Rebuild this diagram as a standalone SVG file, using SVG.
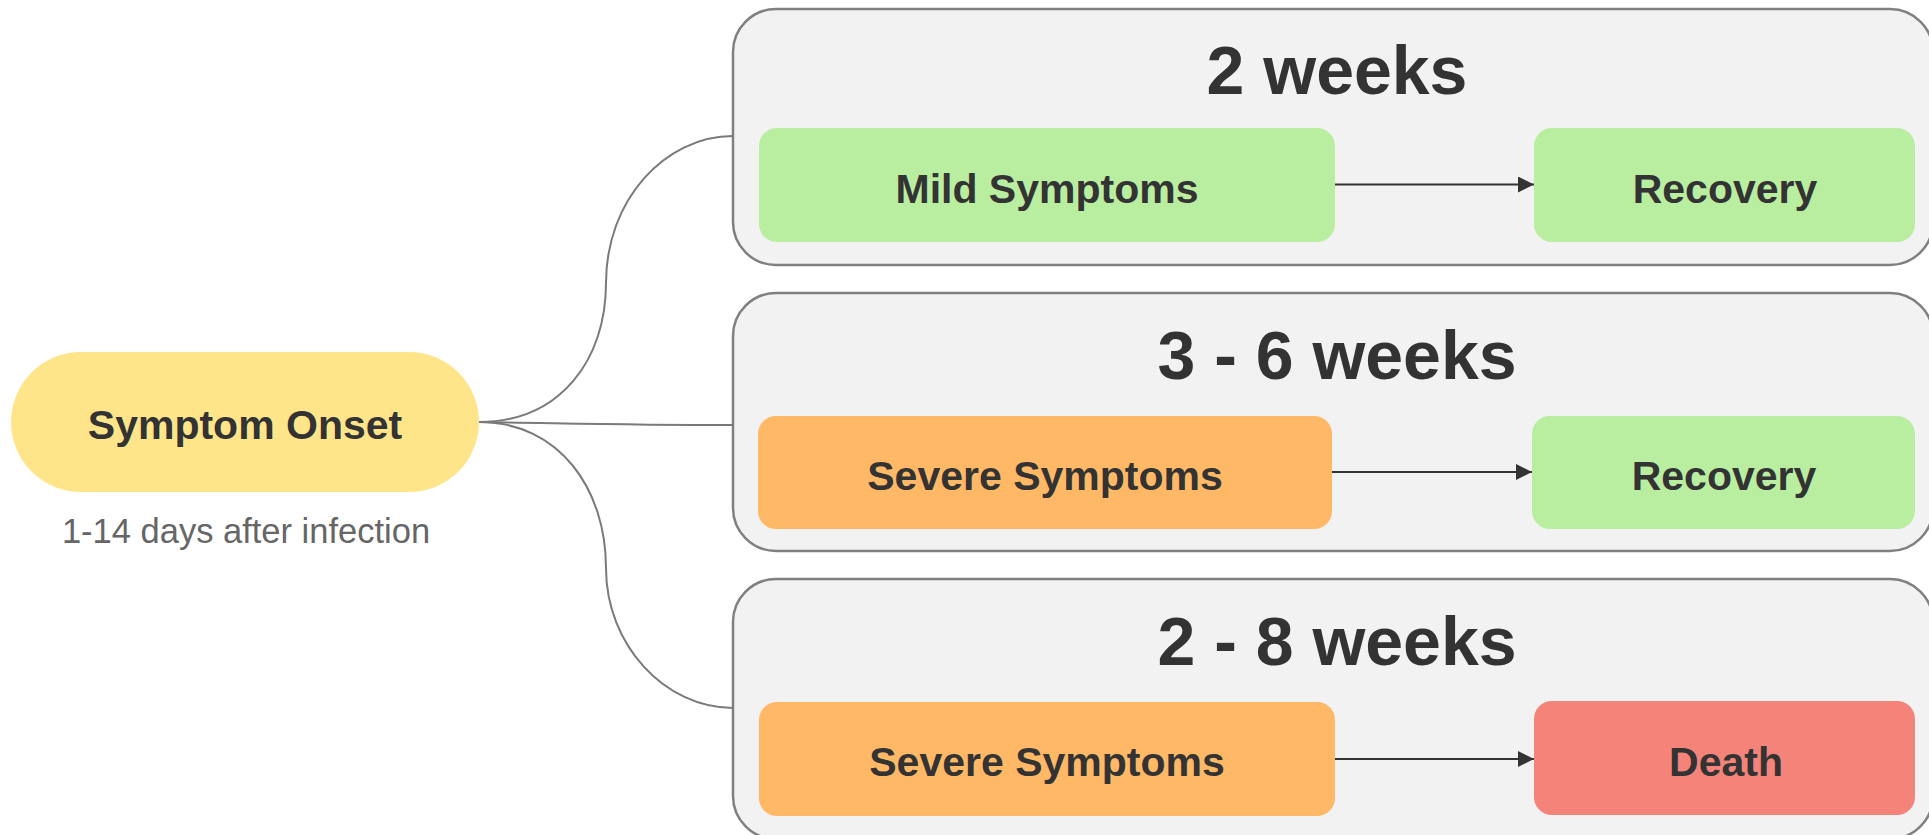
<svg xmlns="http://www.w3.org/2000/svg" width="1929" height="835" viewBox="0 0 1929 835">
<defs>
<style>
.grp{fill:#f2f2f2;stroke:#808080;stroke-width:2.5}
.node{stroke:none}
.lbl{font-family:"Liberation Sans",Arial,sans-serif;font-weight:bold;font-size:41px;fill:#333;text-anchor:middle}
.ttl{font-family:"Liberation Sans",Arial,sans-serif;font-weight:bold;font-size:68px;fill:#333;text-anchor:middle}
.sub{font-family:"Liberation Sans",Arial,sans-serif;font-size:34.5px;fill:#666;text-anchor:middle}
.conn{fill:none;stroke:#7a7a7a;stroke-width:2}
.arr{fill:none;stroke:#333;stroke-width:2.2}
</style>
<marker id="ah" viewBox="0 0 10 10" refX="10" refY="5" markerWidth="16" markerHeight="16" markerUnits="userSpaceOnUse" orient="auto">
<path d="M0 0 L10 5 L0 10 Z" fill="#333"/>
</marker>
</defs>
<rect width="1929" height="835" fill="#ffffff"/>

<g id="onset">
<rect class="node" x="11" y="352" width="468" height="140" rx="70" fill="#ffe58a"/>
<text class="lbl" x="245" y="439">Symptom Onset</text>
<text class="sub" x="246" y="543">1-14 days after infection</text>
</g>

<g id="group1">
<rect class="grp" x="733" y="9" width="1200" height="256" rx="43"/>
<text class="ttl" x="1337" y="94">2 weeks</text>
</g>
<g id="mild1">
<rect class="node" x="759" y="128" width="576" height="114" rx="18" fill="#b9eea0"/>
<text class="lbl" x="1047" y="203">Mild Symptoms</text>
</g>
<g id="recovery1">
<rect class="node" x="1534" y="128" width="381" height="114" rx="18" fill="#b9eea0"/>
<text class="lbl" x="1725" y="203">Recovery</text>
</g>

<g id="group2">
<rect class="grp" x="733" y="293" width="1200" height="258" rx="43"/>
<text class="ttl" x="1337" y="379">3 - 6 weeks</text>
</g>
<g id="severe2">
<rect class="node" x="758" y="416" width="574" height="113" rx="18" fill="#ffb866"/>
<text class="lbl" x="1045" y="490">Severe Symptoms</text>
</g>
<g id="recovery2">
<rect class="node" x="1532" y="416" width="383" height="113" rx="18" fill="#b9eea0"/>
<text class="lbl" x="1724" y="490">Recovery</text>
</g>

<g id="group3">
<rect class="grp" x="733" y="579" width="1200" height="260" rx="43"/>
<text class="ttl" x="1337" y="665">2 - 8 weeks</text>
</g>
<g id="severe3">
<rect class="node" x="759" y="702" width="576" height="114" rx="18" fill="#ffb866"/>
<text class="lbl" x="1047" y="776">Severe Symptoms</text>
</g>
<g id="death3">
<rect class="node" x="1534" y="701" width="381" height="114" rx="18" fill="#f4837a"/>
<text class="lbl" x="1726" y="776">Death</text>
</g>

<g id="connectors">
<path class="conn" d="M479 422 C560 422 606 360 606 283 C606 200 665 136 733 136"/>
<path class="conn" d="M479 422 C560 423 620 425 733 425"/>
<path class="conn" d="M479 422 C560 422 606 490 606 568 C606 645 665 708 733 708"/>
<path class="arr" marker-end="url(#ah)" d="M1335 184.5 L1534 184.5"/>
<path class="arr" marker-end="url(#ah)" d="M1332 472 L1532 472"/>
<path class="arr" marker-end="url(#ah)" d="M1335 759 L1534 759"/>
</g>
</svg>
